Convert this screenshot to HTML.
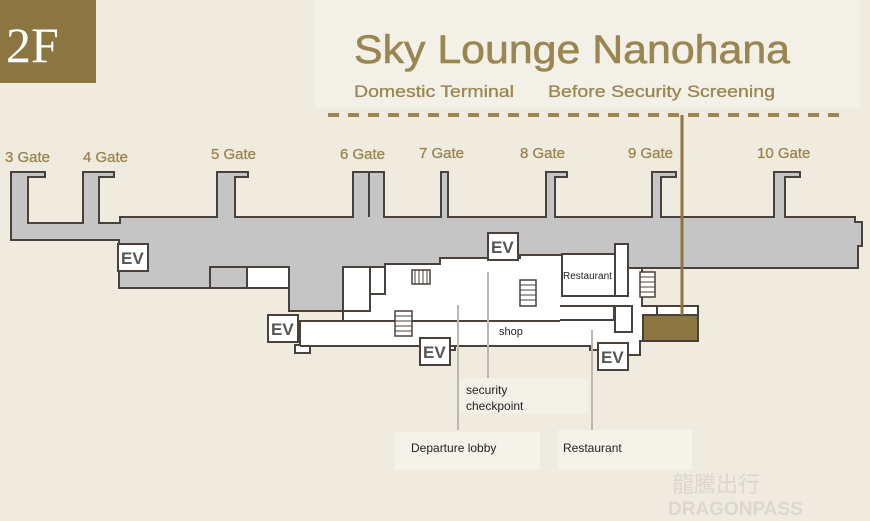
<!DOCTYPE html>
<html><head><meta charset="utf-8"><style>
html,body{margin:0;padding:0;width:870px;height:521px;overflow:hidden;background:#efebdf;}
svg{display:block}
</style></head><body>
<svg width="870" height="521" viewBox="0 0 870 521" xmlns="http://www.w3.org/2000/svg" font-family="Liberation Sans, sans-serif">
<rect width="870" height="521" fill="#efebdf"/>
<rect x="315" y="0" width="545" height="108" fill="#f3f0e7"/>
<rect x="0" y="0" width="96" height="83" fill="#8b7540"/>
<text x="6" y="62" font-family="Liberation Serif, serif" font-size="50" fill="#fff">2F</text>
<text x="354" y="63" font-size="40" fill="#9a8650" stroke="#9a8650" stroke-width="0.6" textLength="436" lengthAdjust="spacingAndGlyphs">Sky Lounge Nanohana</text>
<text x="354" y="97" font-size="17" fill="#9a8650" stroke="#9a8650" stroke-width="0.3" textLength="160" lengthAdjust="spacingAndGlyphs">Domestic Terminal</text>
<text x="548" y="97" font-size="17" fill="#9a8650" stroke="#9a8650" stroke-width="0.3" textLength="227" lengthAdjust="spacingAndGlyphs">Before Security Screening</text>
<line x1="328" y1="115" x2="840" y2="115" stroke="#9a8650" stroke-width="4" stroke-dasharray="11,9"/>
<g font-size="15" fill="#9a8650" stroke="#9a8650" stroke-width="0.3">
<text x="5" y="162">3 Gate</text><text x="83" y="162">4 Gate</text><text x="211" y="159">5 Gate</text>
<text x="340" y="159">6 Gate</text><text x="419" y="158">7 Gate</text><text x="520" y="158">8 Gate</text>
<text x="628" y="158">9 Gate</text><text x="757" y="158">10 Gate</text>
</g>
<path d="M11,172 H45 V177 H28 V223 H83 V172 H114 V177 H99 V223 H120 V217 H217 V172 H248 V177 H235 V217 H353 V172 H384 V217 H441 V172 H448 V217 H546 V172 H567 V177 H555 V217 H652 V172 H676 V177 H661 V217 H774 V172 H800 V177 H785 V217 H855 V222 H862 V246 H858 V268 H343 V311 H289 V288 H119 V240 H11 Z" fill="#c5c5c5" stroke="#4a403c" stroke-width="2"/>
<line x1="369" y1="172" x2="369" y2="217" stroke="#4a403c" stroke-width="2"/>
<rect x="210" y="267" width="37" height="21" fill="#c5c5c5" stroke="#4a403c" stroke-width="2"/>
<rect x="247" y="267" width="42" height="21" fill="#fff" stroke="#4a403c" stroke-width="2"/>
<path d="M343,267 H385 V264 H440 V258 H520 V255 H562 V268 H642 V306 H657 V315 H643 V341 H640 V355 H616 V350 H590 V346 H455 V350 H420 V346 H310 V353 H295 V345 H300 V321 H343 Z" fill="#fff" stroke="#4a403c" stroke-width="2"/>
<rect x="343" y="267" width="27" height="44" fill="#fff" stroke="#4a403c" stroke-width="2"/>
<rect x="370" y="267" width="15" height="27" fill="#fff" stroke="#4a403c" stroke-width="2"/>
<line x1="300" y1="321" x2="560" y2="321" stroke="#4a403c" stroke-width="2"/>
<line x1="300" y1="346" x2="560" y2="346" stroke="#4a403c" stroke-width="2"/>
<rect x="562" y="254" width="53" height="42" fill="#fff" stroke="#4a403c" stroke-width="2"/>
<rect x="615" y="244" width="13" height="52" fill="#fff" stroke="#4a403c" stroke-width="2"/>
<path d="M560,306 H614 V320 H560" fill="none" stroke="#4a403c" stroke-width="2"/>
<rect x="615" y="306" width="17" height="26" fill="#fff" stroke="#4a403c" stroke-width="2"/>
<rect x="657" y="306" width="41" height="9" fill="#fff" stroke="#4a403c" stroke-width="2"/>
<rect x="643" y="315" width="55" height="26" fill="#8b7540" stroke="#4a403c" stroke-width="2"/>
<g fill="#fff" stroke="#4a403c" stroke-width="1.5">
<rect x="520" y="280" width="16" height="26"/><rect x="395" y="311" width="17" height="25"/>
<rect x="640" y="272" width="15" height="25"/><rect x="412" y="270" width="18" height="14"/>
</g>
<g stroke="#4a403c" stroke-width="1">
<path d="M520,285H536M520,290H536M520,295H536M520,300H536M395,316H412M395,321H412M395,326H412M395,331H412M640,277H655M640,282H655M640,287H655M640,292H655M415,270V284M419,270V284M423,270V284M427,270V284"/>
</g>
<g fill="#fff" stroke="#4a403c" stroke-width="2">
<rect x="118" y="244" width="30" height="27"/><rect x="488" y="233" width="30" height="27"/>
<rect x="268" y="315" width="30" height="27"/><rect x="420" y="338" width="30" height="27"/>
<rect x="598" y="343" width="30" height="27"/>
</g>
<g font-size="17" fill="#555" font-weight="bold">
<text x="121" y="264">EV</text><text x="491" y="253">EV</text><text x="271" y="335">EV</text>
<text x="423" y="358">EV</text><text x="601" y="363">EV</text>
</g>
<text x="563" y="279" font-size="10" fill="#222">Restaurant</text>
<text x="499" y="335" font-size="11" fill="#222">shop</text>
<g stroke="#bdb8ad" stroke-width="2">
<line x1="458" y1="305" x2="458" y2="430"/><line x1="488" y1="272" x2="488" y2="378"/><line x1="592" y1="330" x2="592" y2="430"/>
</g>
<rect x="460" y="378" width="128" height="36" fill="#f3f0e7"/>
<text x="466" y="394" font-size="12" fill="#222">security</text>
<text x="466" y="410" font-size="12" fill="#222">checkpoint</text>
<rect x="395" y="432" width="145" height="38" fill="#f5f2ea"/>
<text x="411" y="452" font-size="12" fill="#222">Departure lobby</text>
<rect x="558" y="430" width="134" height="40" fill="#f5f2ea"/>
<text x="563" y="452" font-size="12" fill="#222">Restaurant</text>
<line x1="682" y1="115" x2="682" y2="315" stroke="#8b7540" stroke-width="3"/>
<text x="672" y="492" font-size="22" fill="#dcd8d0" font-family="Noto Sans CJK SC, sans-serif">龍騰出行</text>
<text x="668" y="515" font-size="19" fill="#dcd8d0" font-weight="bold">DRAGONPASS</text>
</svg>
</body></html>
